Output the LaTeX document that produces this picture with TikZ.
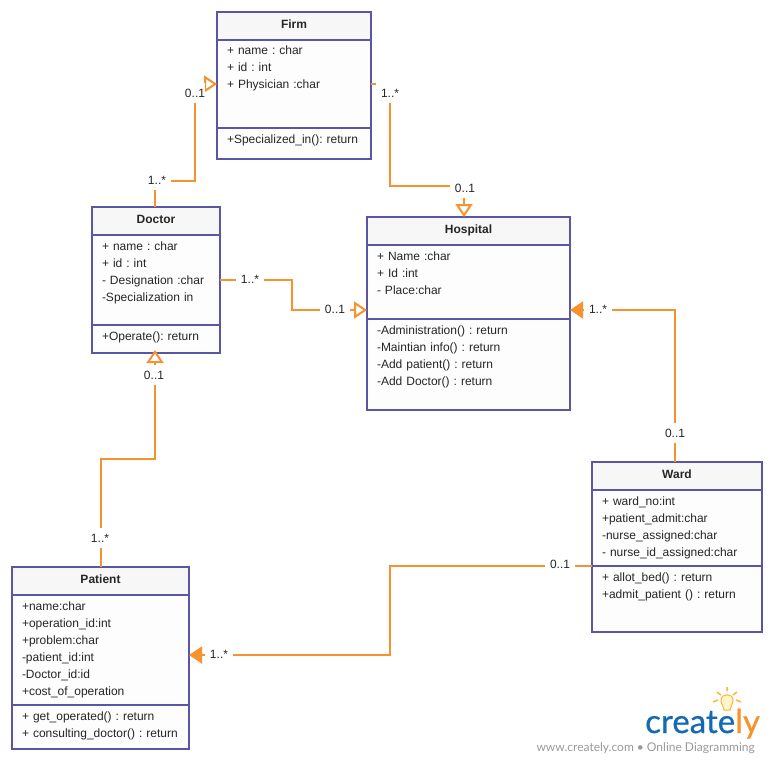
\documentclass[tikz,border=0pt]{standalone}
\usepackage{fontspec}
\setmainfont{Liberation Sans}
\newfontfamily\logofont[FakeBold=0.6]{Lato}
\usetikzlibrary{positioning,arrows.meta}
\definecolor{classline}{HTML}{5A56A4}
\definecolor{assocline}{HTML}{F7932E}
\definecolor{classhead}{HTML}{F7F7F7}
\definecolor{classfill}{HTML}{FDFDFD}
\definecolor{logoblue}{HTML}{1469B4}
\definecolor{bulbline}{HTML}{FBB53C}
\definecolor{bulbfill}{HTML}{FFF6C8}
\tikzset{
	classtitle/.style={draw=classline, fill=classhead, line width=1.6pt, inner sep=0pt, outer sep=0pt, text height=8.6pt, text depth=4pt, font=\fontsize{12}{17}\selectfont\bfseries, text=black!85},
	classbody/.style={draw=classline, fill=classfill, line width=1.6pt, inner xsep=10pt, inner ysep=0pt, outer sep=0pt, align=left, text height=15pt, font=\fontsize{12}{17}\selectfont\frenchspacing, text=black!85},
	assoc/.style={draw=assocline, line width=2pt},
	openend/.style={assoc, -{Triangle[open, fill=white, length=13pt, width=17pt]}},
	fullend/.style={assoc, -{Triangle[length=13pt, width=17pt]}},
	mult/.style={fill=white, inner xsep=5pt, inner ysep=6pt, font=\fontsize{12}{14}\selectfont\frenchspacing, text=black!85},
}

\begin{document}
\begin{tikzpicture}[x=1pt, y=-1pt]
	\useasboundingbox (0,0) rectangle (770,760);

	\node[classtitle, minimum width=154pt, minimum height=28pt] (firmhead) at (294,26) {Firm};
	\node[classbody, below=0pt of firmhead, text width=134pt, text depth=73pt] (firmbody) {+ name : char\\+ id : int\\+ Physician :char};
	\node[classbody, below=0pt of firmbody, text width=134pt, text depth=16pt] (firmops) {+Specialized\_in(): return};

	\node[classtitle, minimum width=128pt, minimum height=28pt] (doctorhead) at (156,221) {Doctor};
	\node[classbody, below=0pt of doctorhead, text width=108pt, text depth=75pt] (doctorbody) {+ name : char\\+ id : int\\- Designation :char\\-Specialization in};
	\node[classbody, below=0pt of doctorbody, text width=108pt, text depth=13pt] (doctorops) {+Operate(): return};

	\node[classtitle, minimum width=203pt, minimum height=28pt] (hospitalhead) at (468.5,231) {Hospital};
	\node[classbody, below=0pt of hospitalhead, text width=183pt, text depth=59pt] (hospitalbody) {+ Name :char\\+ Id :int\\- Place:char};
	\node[classbody, below=0pt of hospitalbody, text width=183pt, text depth=76pt] (hospitalops) {-Administration() : return\\-Maintian info() : return\\-Add patient() : return\\-Add Doctor() : return};

	\node[classtitle, minimum width=170pt, minimum height=28pt] (wardhead) at (677,476) {Ward};
	\node[classbody, below=0pt of wardhead, text width=150pt, text depth=61pt] (wardbody) {+ ward\_no:int\\+patient\_admit:char\\-nurse\_assigned:char\\- nurse\_id\_assigned:char};
	\node[classbody, below=0pt of wardbody, text width=150pt, text depth=51pt] (wardops) {+ allot\_bed() : return\\+admit\_patient () : return};

	\node[classtitle, minimum width=177pt, minimum height=28pt] (patienthead) at (100.5,581) {Patient};
	\node[classbody, below=0pt of patienthead, text width=157pt, text depth=95pt] (patientbody) {+name:char\\+operation\_id:int\\+problem:char\\-patient\_id:int\\-Doctor\_id:id\\+cost\_of\_operation};
	\node[classbody, below=0pt of patientbody, text width=157pt, text depth=29pt] (patientops) {+ get\_operated() : return\\+ consulting\_doctor() : return};

	% connectors first, the labels then sit on top of them
	\draw[openend] ([xshift=-1pt]doctorhead.north) -- ++(0,-26) -- ++(40,0) |- (firmbody.west);
	\draw[openend] (firmbody.east) -- ++(19,0) -- ++(0,102) -- ++(74,0) -- ([xshift=-4.5pt]hospitalhead.north);
	\draw[openend] (doctorbody.east) -- ++(72,0) |- ([yshift=9pt]hospitalbody.south west);
	\draw[fullend] ([xshift=-2pt]wardhead.north) |- ([yshift=9pt]hospitalbody.south east);
	\draw[openend] (patienthead.north) -- ++(0,-108) -| ([xshift=-1pt,yshift=3pt]doctorops.south);
	\draw[fullend] (wardbody.south west) -- ++(-202,0) |- ([yshift=-5pt]patientbody.east);

	\node[mult, inner xsep=0pt] (firmdoctor) at (195,93) {0..1};
	\node[mult] (doctorfirm) at (157,180) {1..*};
	\node[mult] (firmhospital) at (390,93) {1..*};
	\node[mult] (hospitalfirm) at (465,188) {0..1};
	\node[mult] (doctorhospital) at (250,279) {1..*};
	\node[mult] (hospitaldoctor) at (335,309) {0..1};
	\node[mult] (hospitalward) at (598,309) {1..*};
	\node[mult] (wardhospital) at (675,433) {0..1};
	\node[mult] (doctorpatient) at (154,375) {0..1};
	\node[mult] (patientdoctor) at (100,538) {1..*};
	\node[mult] (wardpatient) at (560,564) {0..1};
	\node[mult] (patientward) at (219,654) {1..*};

	% logo
	\node[anchor=base west, inner sep=0pt, font=\logofont\fontsize{33}{33}\selectfont, text=logoblue] (logoname) at (645,733) {creat\textcolor{logoblue}{e}\textcolor{assocline}{ly}};
	\node[anchor=base east, inner sep=0pt, font=\fontsize{12}{14}\selectfont\sffamily, text=black!40] (logotext) at (755,751) {\fontspec{Lato}www.creately.com \textbullet{} Online Diagramming};
	\draw[bulbline, line width=1pt, fill=bulbfill] (724,710) .. controls (724,706) and (721,705) .. (721,700) .. controls (721,693) and (733,693) .. (733,700) .. controls (733,705) and (730,706) .. (730,710) -- cycle;
	\draw[bulbline, line width=1.5pt] (727,687) -- (727,691) (717,692) -- (721,695) (737,692) -- (733,695) (713,702) -- (718,700) (741,702) -- (736,700);
\end{tikzpicture}
\end{document}
